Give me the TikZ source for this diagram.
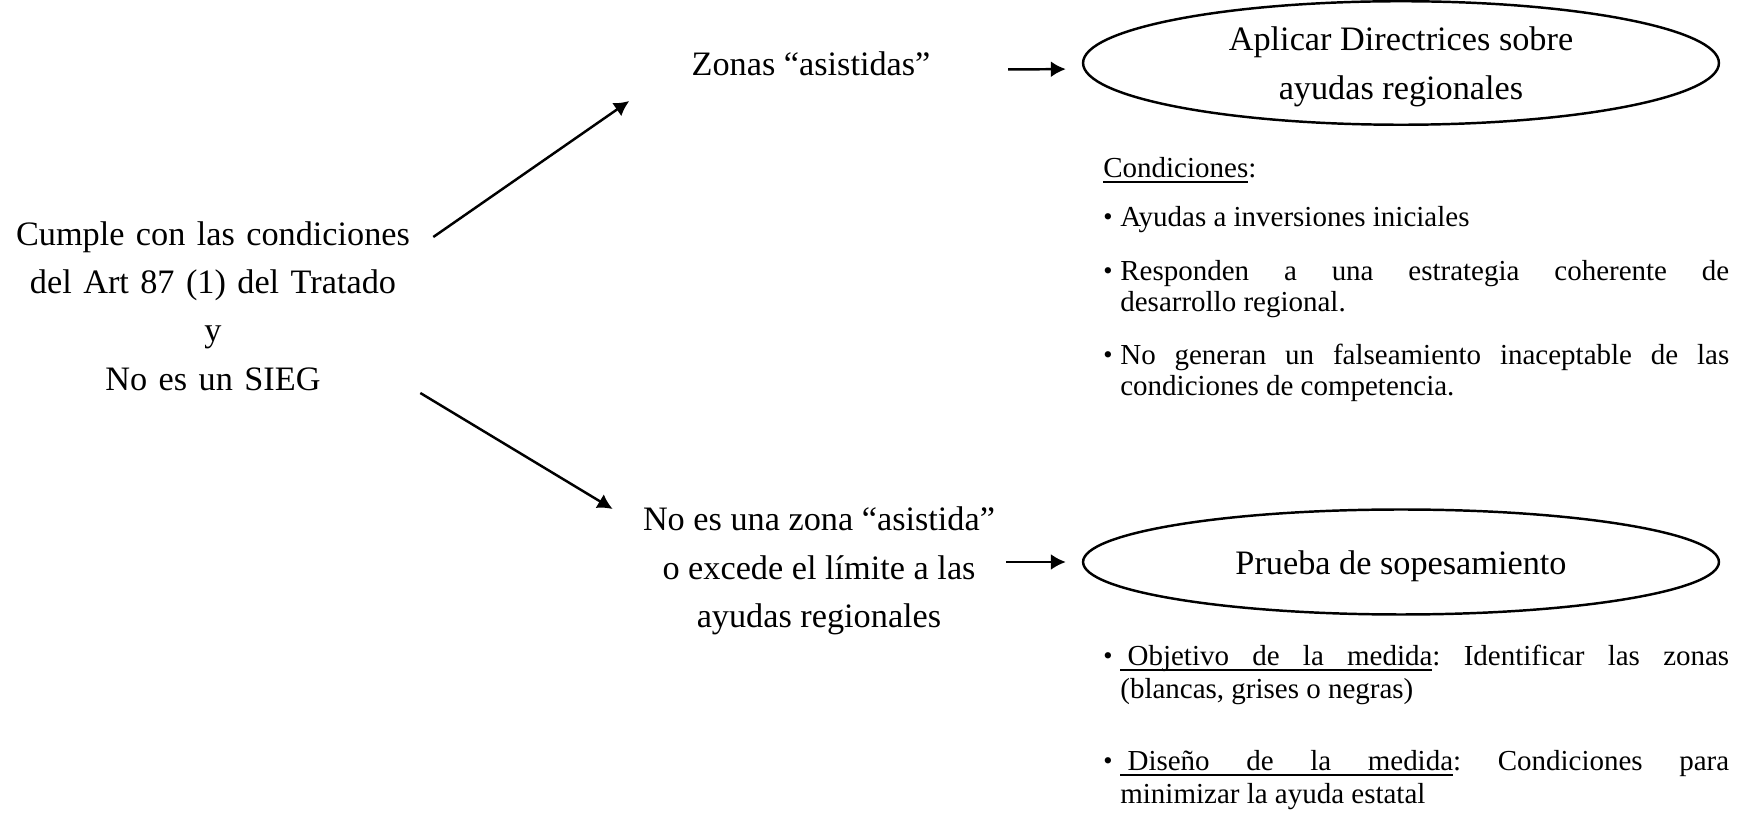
\documentclass[tikz,border=0pt]{standalone}
\usepackage{fontspec}
\setmainfont{Liberation Serif}
\usetikzlibrary{arrows.meta, shapes.geometric}

\newcommand{\itembullet}{\makebox[0.34cm][l]{\raisebox{0.06em}{\fontsize{15}{15}\selectfont\textbullet}}}
\newcommand{\hang}{\frenchspacing\hangindent=0.34cm\hangafter=1\relax}
% underlined word, stretchable underlined space, fixed underlined space
\newcommand{\ulw}[1]{\setbox0\hbox{#1}\rlap{\vrule width\wd0 height -1.6pt depth 2.7pt}\box0}
\newcommand{\ulsp}{\leaders\hrule height -1.6pt depth 2.7pt\hskip\fontdimen2\font plus\fontdimen3\font minus\fontdimen4\font}
\newcommand{\ulfix}{\vrule width\fontdimen2\font height -1.6pt depth 2.7pt}

\tikzset{
  maintext/.style={font=\fontsize{19.5}{27.5}\selectfont, align=center, inner sep=0pt},
  ovalbox/.style={maintext, draw, ellipse, line width=1.4pt, minimum width=12.72cm, minimum height=2.1cm},
  bulletitem/.style={font=\fontsize{16.5}{17.6}\selectfont, text width=12.52cm, align=justify, inner sep=0pt, anchor=base west},
  arr/.style={-{Latex[length=0.3cm, width=0.32cm]}, line width=1.4pt},
}

\begin{document}
\begin{tikzpicture}[x=0.02cm, y=-0.02cm]
\useasboundingbox (0,0) rectangle (1742,813);
% Left block
\node[maintext, text width=8.4cm] (cumple) at (213,306) {Cumple con las condiciones\\ del Art 87 (1) del Tratado\\ y\\ No es un SIEG};
% Middle nodes
\node[maintext] (zonas) at (811,64) {Zonas “asistidas”};
\node[maintext] (noasist) at (819,571) {No es una zona “asistida”\\ o excede el límite a las\\ ayudas regionales};
% Ellipses
\node[ovalbox] (aplicar) at (1401,63) {\rule{0pt}{18pt}Aplicar Directrices sobre\\ ayudas regionales};
\node[ovalbox] (prueba) at (1401,562) {\rule{0pt}{18pt}Prueba de sopesamiento};
% Conditions for assisted zones
\node[bulletitem] (cond) at (1103,178) {\ulw{Condiciones}:};
\node[bulletitem] (b1) at (1103,227) {\hang\itembullet Ayudas a inversiones iniciales\par};
\node[bulletitem] (b2) at (1103,281) {\hang\itembullet Responden a una estrategia coherente de\linebreak desarrollo regional.\par};
\node[bulletitem] (b3) at (1103,365) {\hang\itembullet No generan un falseamiento inaceptable de las\linebreak condiciones de competencia.\par};
% Balancing test
\node[bulletitem, font=\fontsize{16.5}{18.5}\selectfont] (b4) at (1103,666) {\hang\itembullet\ulfix\ulw{Objetivo}\ulsp\ulw{de}\ulsp\ulw{la}\ulsp\ulw{medida}: Identificar las zonas\linebreak (blancas, grises o negras)\par};
\node[bulletitem, font=\fontsize{16.5}{18.5}\selectfont] (b5) at (1103,771) {\hang\itembullet\ulfix\ulw{Diseño}\ulsp\ulw{de}\ulsp\ulw{la}\ulsp\ulw{medida}: Condiciones para\linebreak minimizar la ayuda estatal\par};
% Arrows
\draw[arr] ([shift={(10,-69)}]cumple.east) -- ([shift={(-62,37)}]zonas.west);
\draw[arr] ([shift={(-3,87)}]cumple.east) -- ([shift={(-30,-62)}]noasist.west);
\draw[arr, shorten <=1.55cm, shorten >=0.32cm] ([yshift=-0.12cm]zonas.east) -- ([yshift=-0.12cm]aplicar.west);
\draw[arr, shorten <=0.22cm, shorten >=0.32cm] (noasist.east |- prueba.west) -- (prueba.west);
\end{tikzpicture}
\end{document}
